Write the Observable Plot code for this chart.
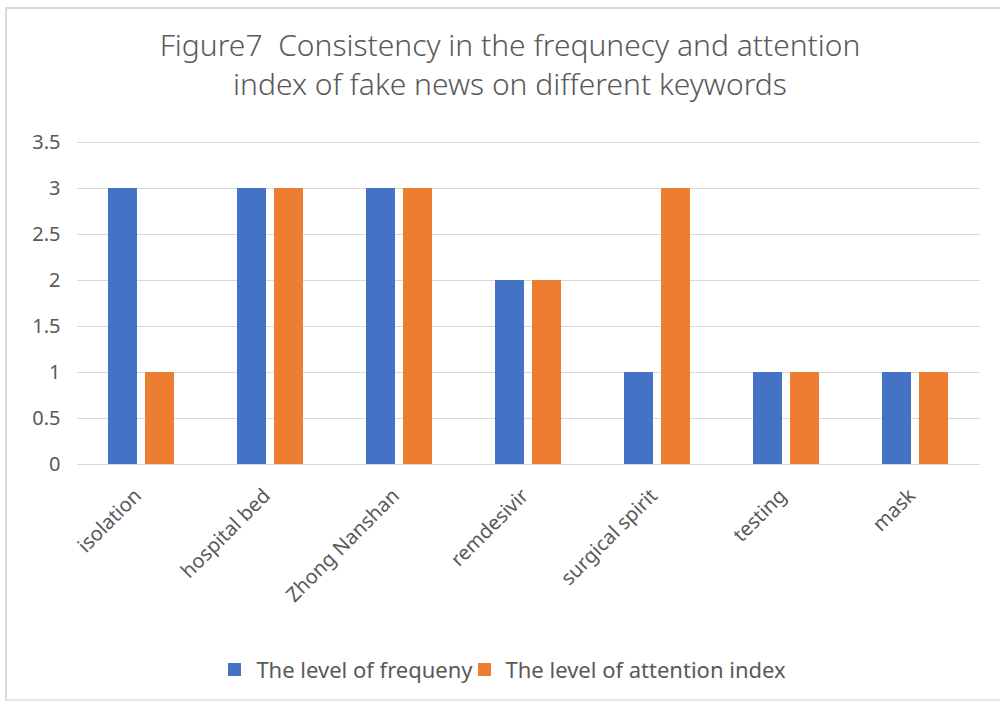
<!DOCTYPE html>
<html>
<head>
<meta charset="utf-8">
<script src="https://cdn.jsdelivr.net/npm/d3@7"></script>
<script src="https://cdn.jsdelivr.net/npm/@observablehq/plot@0.6"></script>
<style>
  html, body { margin: 0; padding: 0; background: #fff; }
  body { width: 1000px; height: 704px; position: relative; overflow: hidden;
         font-family: "Noto Sans", "Open Sans", sans-serif; color: #595959; }
  #frame { position: absolute; left: 5px; top: 7px; width: 995px; height: 694px;
           border-top: 2px solid #d9d9d9; border-left: 2px solid #d9d9d9; border-bottom: 2px solid #e6e6e6;
           box-sizing: border-box; }
  #title { position: absolute; left: 20px; top: 25px; width: 980px; text-align: center;
           font-size: 30px; line-height: 39px; font-weight: 300; color: #595959; }
  #chart { position: absolute; left: 0; top: 120px; }
  #legend { position: absolute; left: 0; top: 654px; width: 1000px; display: flex; justify-content: center;
            padding-left: 19px; box-sizing: border-box; font-size: 22px; color: #595959; }
  .item { display: flex; align-items: center; margin-right: 5px; }
  .sw { width: 13px; height: 13px; margin-right: 15px; }
</style>
</head>
<body>
<div id="frame"></div>
<div id="title">Figure7&nbsp; Consistency in the frequnecy and attention<br>index of fake news on different keywords</div>
<div id="chart"></div>
<div id="legend"></div>
<script>
// Keywords along the x axis
const keywords = ["isolation", "hospital bed", "Zhong Nanshan", "remdesivir", "surgical spirit", "testing", "mask"];
// The two series compared for each keyword
const seriesNames = ["The level of frequeny", "The level of attention index"];
const frequency = [3, 3, 3, 2, 1, 1, 1];
const attention = [1, 3, 3, 2, 3, 1, 1];
const colors = ["#4472C4", "#ED7D31"];
const yTicks = [0, 0.5, 1, 1.5, 2, 2.5, 3, 3.5];

const rows = keywords.flatMap((k, i) => [
  {keyword: k, series: seriesNames[0], value: frequency[i]},
  {keyword: k, series: seriesNames[1], value: attention[i]}
]);

const chart = Plot.plot({
  width: 1000,
  height: 520,
  marginTop: 22,
  marginBottom: 176,
  marginLeft: 77,
  marginRight: 20,
  style: {fontFamily: "'Noto Sans', 'Open Sans', sans-serif", color: "#595959", background: "transparent"},
  fx: {domain: keywords, padding: 0, axis: null},
  x: {domain: seriesNames, paddingInner: 0.216, paddingOuter: 0.851, axis: null},
  y: {domain: [0, 3.5], axis: null},
  color: {domain: seriesNames, range: colors},
  marks: [
    Plot.gridY(yTicks, {stroke: "#d9d9d9", strokeOpacity: 1, strokeWidth: 1}),
    Plot.axisY(yTicks, {tickSize: 0, tickPadding: 17, fontSize: 20, label: null,
                        tickFormat: (d) => String(d)}),
    Plot.axisFx({anchor: "bottom", tickRotate: -45, tickSize: 0, tickPadding: 28, dx: -4,
                 fontSize: 20, label: null}),
    Plot.barY(rows, {fx: "keyword", x: "series", y: "value", fill: "series"})
  ]
});
document.getElementById("chart").appendChild(chart);

// Legend below the chart
const legend = document.getElementById("legend");
seriesNames.forEach((name, i) => {
  const item = document.createElement("div");
  item.className = "item";
  const sw = document.createElement("div");
  sw.className = "sw";
  sw.style.background = colors[i];
  item.appendChild(sw);
  item.appendChild(document.createTextNode(name));
  legend.appendChild(item);
});
</script>
</body>
</html>
